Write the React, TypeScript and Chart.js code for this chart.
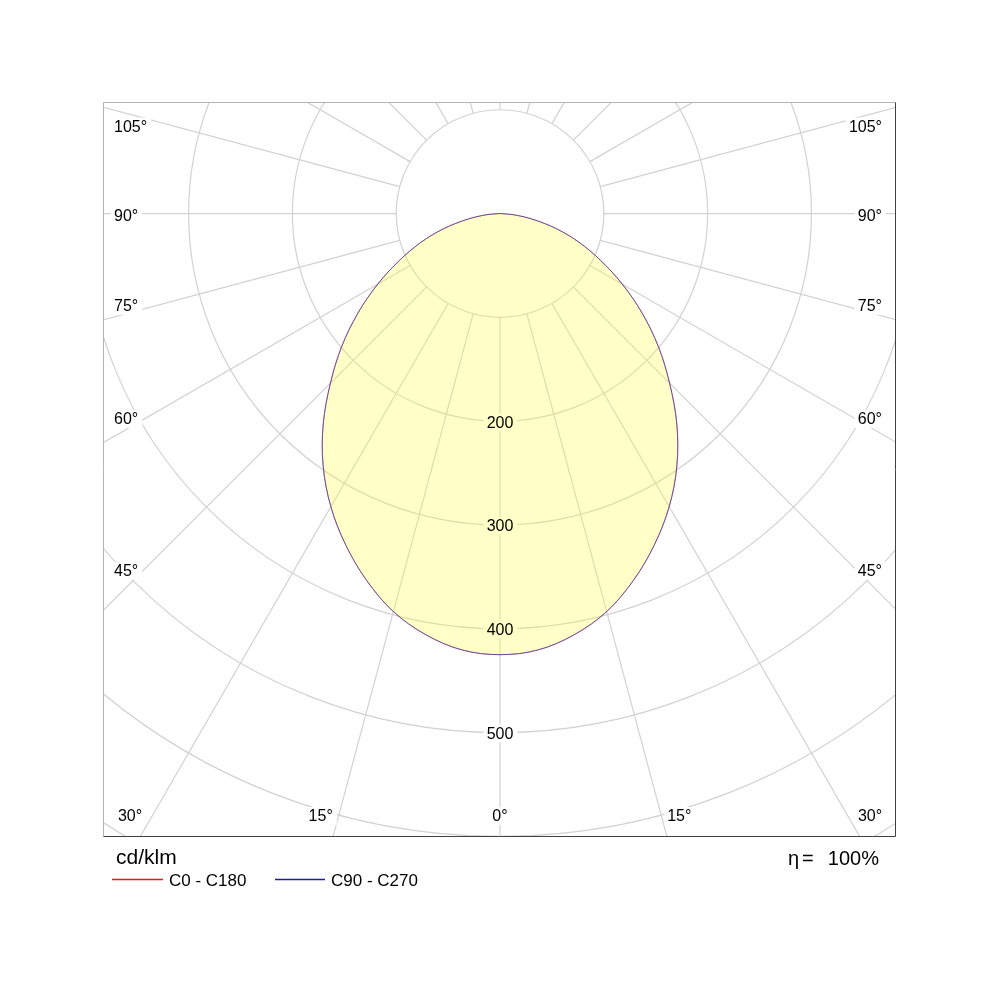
import React, { useEffect, useRef } from 'react';
import { Chart, registerables } from 'chart.js';

Chart.register(...registerables);

// ---- data ----
const gammaAngles = [0, 5, 10, 15, 20, 25, 30, 35, 40, 45, 50, 55, 60, 65, 70, 75, 80, 85, 90];
const intensityC0C180 = [425, 422, 412, 397, 376, 352, 326, 297, 265, 231, 199, 167, 136, 107, 81, 56, 32, 13, 0];
const intensityC90C270 = [425, 422, 412, 397, 376, 352, 326, 297, 265, 231, 199, 167, 136, 107, 81, 56, 32, 13, 0];
const seriesNames = ['C0 - C180', 'C90 - C270'];
const ringValues = [100, 200, 300, 400, 500, 600, 700];
const ringLabelValues = [200, 300, 400, 500];
const radialAngles = [0, 15, 30, 45, 60, 75, 90, 105, 120, 135, 150, 165, 180, 195, 210, 225, 240, 255, 270, 285, 300, 315, 330, 345];
const angleLabelValues = [0, 15, 30, 45, 60, 75, 90, 105];
const unitLabel = 'cd/klm';
const efficiencySymbol = 'η';
const efficiencyValue = '100%';

const FONT = '"Liberation Sans", Arial, Helvetica, sans-serif';

function toPoints(angles: number[], values: number[]) {
  const pts: { x: number; y: number }[] = [];
  for (let i = angles.length - 1; i >= 0; i--) {
    const t = (angles[i] * Math.PI) / 180;
    pts.push({ x: -values[i] * Math.sin(t), y: -values[i] * Math.cos(t) });
  }
  for (let i = 1; i < angles.length; i++) {
    const t = (angles[i] * Math.PI) / 180;
    pts.push({ x: values[i] * Math.sin(t), y: -values[i] * Math.cos(t) });
  }
  return pts;
}

type Lbl = { text: string; x: number; y: number; align: CanvasTextAlign };

function collectLabels(chart: any): Lbl[] {
  const { chartArea: a, scales } = chart;
  const xs = scales.x;
  const ys = scales.y;
  const cx = xs.getPixelForValue(0);
  const cy = ys.getPixelForValue(0);
  const out: Lbl[] = [];
  ringLabelValues.forEach((v) => {
    out.push({ text: String(v), x: cx, y: ys.getPixelForValue(-v) + 2, align: 'center' });
  });
  const leftEdge = a.left + 23;
  const rightEdge = a.right - 22;
  const bottomEdge = a.bottom - 21;
  const topEdge = a.top + 10;
  angleLabelValues.forEach((deg) => {
    const sides = deg === 0 ? [1] : [-1, 1];
    sides.forEach((side) => {
      const makeDir = (adj: number) => {
        const t = ((deg + adj) * Math.PI) / 180;
        return { dx: side * Math.sin(t), dy: Math.cos(t) };
      };
      const sideAdj = deg > 0 && deg < 90 ? 1.4 : deg > 90 ? -1.6 : 0;
      const bottomAdj = deg > 0 && deg < 90 ? 1.6 : 0;
      const d0 = makeDir(0);
      let tSide = Infinity;
      if (Math.abs(d0.dx) > 1e-6) tSide = ((side < 0 ? leftEdge : rightEdge) - cx) / d0.dx;
      let tBottom = Infinity;
      if (d0.dy > 1e-6) tBottom = (bottomEdge - cy) / d0.dy;
      const text = `${deg}°`;
      if (tBottom < tSide) {
        const d = makeDir(bottomAdj);
        const tb = (bottomEdge - cy) / d.dy;
        out.push({ text, x: cx + d.dx * tb, y: bottomEdge + 2, align: 'center' });
      } else {
        const d = makeDir(sideAdj);
        const ts = ((side < 0 ? leftEdge : rightEdge) - cx) / d.dx;
        const py = cy + d.dy * ts;
        if (py < topEdge) return;
        if (side < 0) out.push({ text, x: a.left + 10, y: py + 3, align: 'left' });
        else out.push({ text, x: a.right - 13, y: py + 3, align: 'right' });
      }
    });
  });
  return out;
}

const polarGrid = {
  id: 'polarGrid',
  beforeDatasetsDraw(chart: any) {
    const { ctx, chartArea: a, scales } = chart;
    const xs = scales.x;
    const ys = scales.y;
    const cx = xs.getPixelForValue(0);
    const cy = ys.getPixelForValue(0);
    const rad = (v: number) => xs.getPixelForValue(v) - cx;
    ctx.save();
    ctx.beginPath();
    ctx.rect(a.left, a.top, a.right - a.left, a.bottom - a.top);
    ctx.clip();

    ctx.strokeStyle = '#d2d2d2';
    ctx.lineWidth = 1.2;
    ringValues.forEach((v) => {
      ctx.beginPath();
      ctx.arc(cx, cy, rad(v), 0, Math.PI * 2);
      ctx.stroke();
    });
    const r0 = rad(ringValues[0]);
    const rMax = rad(3000);
    ctx.beginPath();
    radialAngles.forEach((deg) => {
      const t = (deg * Math.PI) / 180;
      const dx = Math.sin(t);
      const dy = Math.cos(t);
      ctx.moveTo(cx + dx * r0, cy + dy * r0);
      ctx.lineTo(cx + dx * rMax, cy + dy * rMax);
    });
    ctx.stroke();

    // label backgrounds (knock out grid lines under the labels)
    ctx.font = `16px ${FONT}`;
    ctx.fillStyle = '#ffffff';
    collectLabels(chart).forEach((l) => {
      const w = ctx.measureText(l.text).width;
      let left = l.x;
      if (l.align === 'center') left = l.x - w / 2;
      else if (l.align === 'right') left = l.x - w;
      ctx.fillRect(left - 3, l.y - 10, w + 7, 18);
    });
    ctx.restore();
  },
  afterDatasetsDraw(chart: any) {
    const { ctx } = chart;
    ctx.save();
    ctx.font = `16px ${FONT}`;
    ctx.fillStyle = '#000000';
    ctx.textBaseline = 'middle';
    collectLabels(chart).forEach((l) => {
      ctx.textAlign = l.align;
      ctx.fillText(l.text, l.x, l.y);
    });
    ctx.restore();
  },
  afterDraw(chart: any) {
    const { ctx, chartArea: a } = chart;
    ctx.save();
    ctx.lineWidth = 1;
    ctx.strokeStyle = '#b4b4b4';
    ctx.beginPath();
    ctx.moveTo(a.left - 0.5, a.bottom + 0.5);
    ctx.lineTo(a.left - 0.5, a.top - 0.5);
    ctx.lineTo(a.right + 0.5, a.top - 0.5);
    ctx.stroke();
    ctx.strokeStyle = '#404040';
    ctx.beginPath();
    ctx.moveTo(a.right + 0.5, a.top - 0.5);
    ctx.lineTo(a.right + 0.5, a.bottom + 0.5);
    ctx.lineTo(a.left - 0.5, a.bottom + 0.5);
    ctx.stroke();

    ctx.fillStyle = '#000';
    ctx.textBaseline = 'middle';
    ctx.textAlign = 'left';
    ctx.font = `21px ${FONT}`;
    ctx.fillText(unitLabel, a.left + 12, a.bottom + 22);

    ctx.font = `20px ${FONT}`;
    ctx.fillText(efficiencySymbol, a.right - 107, a.bottom + 23);
    ctx.fillText('=', a.right - 93, a.bottom + 23);
    ctx.textAlign = 'right';
    ctx.fillText(efficiencyValue, a.right - 16, a.bottom + 23);

    const ly = a.bottom + 43;
    const colors = ['#dc1e1e', '#1e1e96'];
    const starts = [a.left + 8, a.left + 171];
    const lens = [51, 50];
    ctx.font = `17px ${FONT}`;
    ctx.textAlign = 'left';
    seriesNames.forEach((name, i) => {
      ctx.strokeStyle = colors[i];
      ctx.lineWidth = 1.3;
      ctx.beginPath();
      ctx.moveTo(starts[i], ly + 0.5);
      ctx.lineTo(starts[i] + lens[i], ly + 0.5);
      ctx.stroke();
      ctx.fillStyle = '#000';
      ctx.fillText(name, starts[i] + lens[i] + 6, ly + 2);
    });
    ctx.restore();
  },
};

export default function App() {
  const ref = useRef<HTMLCanvasElement>(null);
  useEffect(() => {
    const chart = new Chart(ref.current as HTMLCanvasElement, {
      type: 'scatter',
      data: {
        datasets: [
          {
            label: seriesNames[0],
            data: toPoints(gammaAngles, intensityC0C180),
            showLine: true,
            borderColor: 'rgba(200,40,40,0.55)',
            borderWidth: 1,
            pointRadius: 0,
            tension: 0.35,
            fill: 'shape',
            backgroundColor: 'rgba(255,255,40,0.26)',
            order: 2,
          } as any,
          {
            label: seriesNames[1],
            data: toPoints(gammaAngles, intensityC90C270),
            showLine: true,
            borderColor: 'rgba(60,50,170,0.7)',
            borderWidth: 1,
            pointRadius: 0,
            tension: 0.35,
            fill: false,
            order: 1,
          } as any,
        ],
      },
      plugins: [polarGrid],
      options: {
        animation: false,
        responsive: false,
        devicePixelRatio: 1,
        layout: { padding: { left: 104, top: 103, right: 105, bottom: 164 } },
        plugins: { legend: { display: false }, tooltip: { enabled: false }, title: { display: false } },
        scales: {
          x: { type: 'linear', min: -381.5, max: 380.5, display: false },
          y: { type: 'linear', min: -599.7, max: 106.5, display: false },
        },
      },
    });
    return () => chart.destroy();
  }, []);
  return (
    <div style={{ position: 'fixed', left: 0, top: 0, width: 1000, height: 1000, background: '#fff' }}>
      <canvas ref={ref} width={1000} height={1000} style={{ width: 1000, height: 1000 }} />
    </div>
  );
}
